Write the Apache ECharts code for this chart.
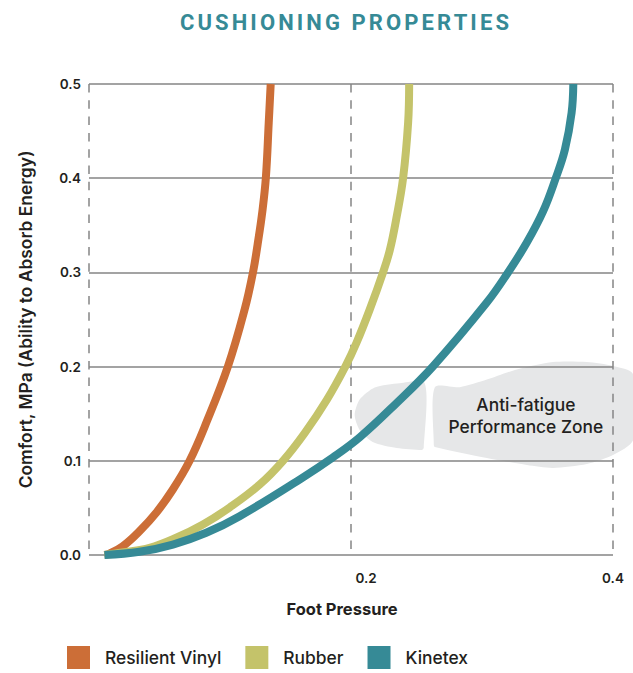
<!DOCTYPE html>
<html><head><meta charset="utf-8">
<style>html,body{margin:0;padding:0;background:#fff}#c{width:633px;height:673px}</style>
<script src="https://cdn.jsdelivr.net/npm/echarts@6/dist/echarts.min.js"></script>
</head><body><div id="c"></div>
<script>
const titleText = 'CUSHIONING PROPERTIES';
const xName = 'Foot Pressure';
const yName = 'Comfort, MPa (Ability to Absorb Energy)';
const vinylName = 'Resilient Vinyl', rubberName = 'Rubber', kinetexName = 'Kinetex';
const zoneLines = 'Anti-fatigue\nPerformance Zone';
const zoneAnchor = [0.3335, 0.1481];
const vinyl = [[.0118,0],[.0157,.0016],[.0258,.0093],[.0386,.0253],[.0513,.0448],[.064,.0695],[.0768,.1],[.0895,.1403],[.1061,.2004],[.1188,.2606],[.1252,.3002],[.1287,.3296],[.1322,.3633],[.135,.4004],[.1372,.4588],[.1387,.5]];
const rubber = [[.0118,0],[.0256,.0027],[.0462,.0076],[.0666,.0183],[.087,.0324],[.1074,.0505],[.1303,.0748],[.1481,.1],[.1647,.1295],[.1817,.1651],[.1958,.2004],[.2042,.2253],[.2143,.2606],[.2245,.3002],[.2296,.3235],[.2347,.358],[.2398,.4004],[.2436,.4588],[.2444,.5]];
const kinetex = [[.0118,0],[.0386,.0034],[.064,.0111],[.0895,.0236],[.115,.0412],[.1634,.0825],[.1861,.1035],[.2067,.125],[.2342,.1605],[.2627,.2004],[.3035,.2677],[.32,.3002],[.3341,.3314],[.3467,.365],[.3562,.3997],[.3633,.4304],[.3684,.4694],[.3697,.5]];
const footHeel = [[.2563,.1824],[.2372,.1824],[.2181,.1779],[.2066,.1650],[.2028,.1486],[.2066,.1327],[.2166,.1200],[.2349,.1136],[.2540,.1115],[.2555,.1136]];
const footSole = [[.2640,.1782],[.2831,.1782],[.3037,.1862],[.3266,.1970],[.3541,.2049],[.3801,.2049],[.4000,.2007],[.4153,.1921],[.4153,.1220],[.4000,.1062],[.3801,.0966],[.3541,.0924],[.3343,.0955],[.3037,.1030],[.2640,.1147],[.2632,.1168]];
const C = {vinyl:'#cc6e37', rubber:'#c4c36a', kinetex:'#368a96', foot:'#e6e7e8', grid:'#858585', text:'#231f20'};
const F = 'Inter, "Liberation Sans", sans-serif';
const chart = echarts.init(document.getElementById('c'), null, {renderer:'svg', width:633, height:673});
const line = (name, data, color) => ({name, type:'line', data, smooth:0.4, showSymbol:false, symbol:'none', clip:true,
  lineStyle:{width:8, color, cap:'butt', join:'round'}, itemStyle:{color}, z:3});
chart.setOption({
  animation:false,
  title:{text:titleText, left:341, top:6, textAlign:'center', textStyle:{fontFamily:'Roboto, sans-serif', fontSize:22, fontWeight:700, color:C.kinetex}},
  grid:{left:89, right:20, top:84, bottom:118},
  xAxis:{type:'value', min:0, max:0.4, interval:0.2, name:xName, nameLocation:'middle', nameGap:45,
    nameTextStyle:{fontFamily:F, fontSize:16.5, fontWeight:700, color:C.text, padding:[0,18,0,0]},
    axisLine:{show:false}, axisTick:{show:false},
    axisLabel:{margin:16, fontFamily:F, fontSize:13.5, fontWeight:600, color:C.text,
      formatter:v => v === 0 ? '' : (v === 0.2 ? '{s|0.2}' : '0.4'),
      rich:{s:{fontFamily:F, fontSize:13.5, fontWeight:600, color:C.text, padding:[0,0,0,30]}}},
    splitLine:{show:true, lineStyle:{color:C.grid, width:1.5, type:[8.5,7.8]}}},
  yAxis:{type:'value', min:0, max:0.5, interval:0.1, name:yName, nameLocation:'middle', nameGap:55,
    nameTextStyle:{fontFamily:F, fontSize:17.4, fontWeight:600, color:C.text},
    axisLine:{show:false}, axisTick:{show:false},
    axisLabel:{margin:8, fontFamily:F, fontSize:13.5, fontWeight:600, color:C.text, formatter:v => v.toFixed(1)},
    splitLine:{show:true, lineStyle:{color:C.grid, width:1.5, type:'solid'}}},
  legend:{data:[vinylName, rubberName, kinetexName], left:62, top:641, icon:'rect', itemWidth:23, itemHeight:23, itemGap:24,
    selectedMode:false, textStyle:{fontFamily:F, fontSize:17.4, fontWeight:500, color:C.text, padding:[0,0,0,10]}},
  series:[
    {type:'custom', coordinateSystem:'cartesian2d', silent:true, clip:false, z:-1, data:[[0,0]], encode:{x:0,y:1},
      renderItem:(p, api) => ({type:'group', children:[footHeel, footSole].map(o => ({type:'polygon',
        shape:{points:o.map(q => api.coord(q)), smooth:0.25}, style:{fill:C.foot}})).concat([{type:'text',
        style:{text:zoneLines, x:api.coord(zoneAnchor)[0], y:api.coord(zoneAnchor)[1], align:'center', verticalAlign:'middle',
          font:'500 17.4px '+F, lineHeight:22, fill:C.text}}])})},
    line(vinylName, vinyl, C.vinyl),
    line(rubberName, rubber, C.rubber),
    line(kinetexName, kinetex, C.kinetex)
  ]
});
document.querySelectorAll('#c svg text').forEach(t => { if (t.textContent === titleText) t.style.letterSpacing = '3.1px'; });
</script></body></html>
